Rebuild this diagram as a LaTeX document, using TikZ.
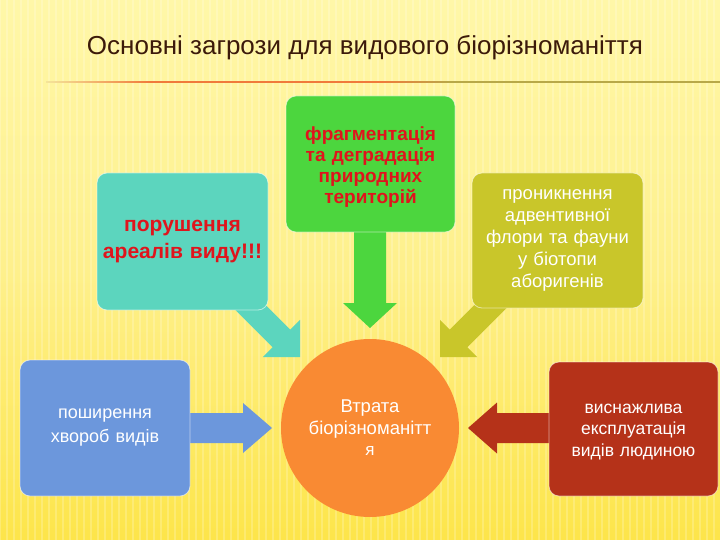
\documentclass[tikz,border=0pt]{standalone}
\usepackage{fontspec}
\setmainfont{Liberation Sans}
\usetikzlibrary{calc}
\definecolor{bgtop}{HTML}{FFF7A8}
\definecolor{bgmid}{HTML}{FEF08C}
\definecolor{bgbot}{HTML}{FDE54A}
\definecolor{titlec}{HTML}{3C1A0A}
\definecolor{greenc}{HTML}{4CD63E}
\definecolor{cyanc}{HTML}{5CD5BE}
\definecolor{olivec}{HTML}{C9C62A}
\definecolor{bluec}{HTML}{6C97DC}
\definecolor{redc}{HTML}{B53219}
\definecolor{orangec}{HTML}{F98A33}
\definecolor{redtext}{HTML}{E0141C}
\definecolor{lineorange}{HTML}{F07A3A}
\definecolor{lineolive}{HTML}{B8A848}
\definecolor{linefade}{HTML}{F4E49A}
\newcommand{\blockarrow}[6]{%
  \coordinate (tmpH) at ($(#2)!#5!(#1)$);
  \fill[#6] ($(#1)!#3!90:(#2)$) -- ($(tmpH)!#3!90:(#2)$) -- ($(tmpH)!#4!90:(#2)$) -- (#2)
    -- ($(tmpH)!#4!-90:(#2)$) -- ($(tmpH)!#3!-90:(#2)$) -- ($(#1)!#3!-90:(#2)$) -- cycle;}
\tikzset{
  box/.style={rounded corners=10pt, draw=white, draw opacity=0.55, line width=0.8pt,
    align=center, inner sep=0pt},
  redlbl/.style={text=redtext, font=\bfseries\fontsize{19}{21}\selectfont},
  whitelbl/.style={text=white, font=\fontsize{18}{23}\selectfont},
}
\begin{document}
\begin{tikzpicture}[x=1pt,y=-1pt]
\useasboundingbox (0,0) rectangle (720,540);
% background
\shade[top color=bgtop, bottom color=bgbot, middle color=bgmid] (0,0) rectangle (720,540);
\foreach \i in {0,7,...,720} {
  \draw[white, opacity=0.2, line width=2.2pt] (\i,0) -- (\i,540);
}
% title
\node[text=titlec, font=\fontsize{26}{30}\selectfont] (title) at (365,48)
  {Основні загрози для видового біорізноманіття};
% title rule
\shade[left color=linefade, right color=lineorange] (46,81.2) rectangle (150,83);
\fill[lineorange] (150,81.2) rectangle (380,83);
\shade[left color=lineorange, right color=lineolive] (380,81.2) rectangle (450,83);
\fill[lineolive] (450,81.2) rectangle (720,83);

% arrow end points
\coordinate (gS) at (370,226);  \coordinate (gT) at (370,328);
\coordinate (cS) at (221.5,278.5); \coordinate (cT) at (300,357);
\coordinate (oS) at (518.5,278.5); \coordinate (oT) at (440,357);
\coordinate (bS) at (185,428);  \coordinate (bT) at (272,428);
\coordinate (rS) at (555,428);  \coordinate (rT) at (468,428);

% block arrows
\blockarrow{gS}{gT}{16pt}{27pt}{25pt}{greenc}
\blockarrow{cS}{cT}{12.5pt}{26.2pt}{26.2pt}{cyanc}
\blockarrow{oS}{oT}{12.5pt}{26.2pt}{26.2pt}{olivec}
\blockarrow{bS}{bT}{15pt}{25pt}{29pt}{bluec}
\blockarrow{rS}{rT}{15pt}{25.5pt}{29pt}{redc}

% boxes
\node[box, fill=greenc, minimum width=169pt, minimum height=136pt] (frag) at (370.5,164) {};
\node[text width=165pt, align=center, inner sep=0pt, redlbl]
  (fragT) at (370.5,167) {фрагментація\\та деградація\\природних\\територій};
\node[box, fill=cyanc, minimum width=171pt, minimum height=137pt, text width=168pt, redlbl,
  font=\bfseries\fontsize{21}{27}\selectfont]
  (areal) at (182.5,241.5) {порушення\\ареалів виду!!!};
\node[box, fill=olivec, minimum width=171pt, minimum height=135pt, text width=165pt, whitelbl,
  font=\fontsize{18.5}{22}\selectfont]
  (adv) at (557.5,240.5) {проникнення\\адвентивної\\флори та фауни\\у біотопи\\аборигенів};
\node[box, fill=bluec, minimum width=170pt, minimum height=136pt, text width=160pt, whitelbl,
  font=\fontsize{18}{24}\selectfont]
  (dis) at (105,428) {поширення\\хвороб видів};
\node[box, fill=redc, minimum width=169pt, minimum height=134pt] (expl) at (633.5,429) {};
\node[text width=165pt, align=center, inner sep=0pt, whitelbl,
  font=\fontsize{17.5}{21.5}\selectfont]
  (explT) at (633.5,432) {виснажлива\\експлуатація\\видів людиною};
\node[circle, fill=orangec, minimum size=178pt, inner sep=0pt, text=white, align=center,
  font=\fontsize{18.5}{21.5}\selectfont]
  (loss) at (370,428) {Втрата\\біорізноманітт\\{\fontsize{17}{19}\selectfont я}};
\end{tikzpicture}
\end{document}
